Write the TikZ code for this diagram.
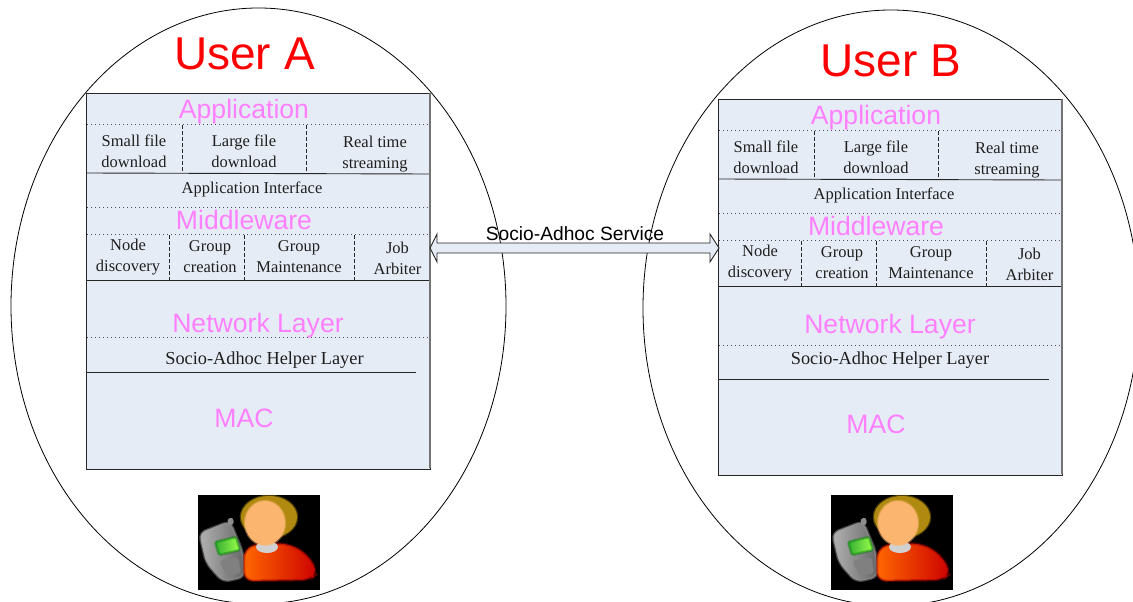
\documentclass[tikz,border=0pt]{standalone}
\usepackage{fontspec}
\setmainfont{Liberation Serif}
\newfontfamily\arialf{Liberation Sans}
\usetikzlibrary{calc,shapes.geometric}
\definecolor{boxfill}{HTML}{E6ECF6}
\definecolor{pinkt}{HTML}{FF80FF}
\definecolor{hairc}{HTML}{B08A10}
\definecolor{headc}{HTML}{FBB56E}
\tikzset{
 oval/.style={draw=black,line width=0.8pt,fill=white},
 stackbox/.style={draw=black!85,line width=0.8pt,fill=boxfill,minimum width=344pt,inner sep=0pt,anchor=north west},
 layer/.style={text=pinkt,font=\arialf\fontsize{26.6}{30}\selectfont,inner sep=0pt},
 title/.style={text=red,font=\arialf\fontsize{46}{50}\selectfont,inner sep=0pt},
 item/.style={text=black!88,font=\fontsize{16.5}{21}\selectfont,align=center,inner sep=0pt},
 helper/.style={text=black!88,font=\fontsize{18.3}{21}\selectfont,inner sep=0pt},
 dotline/.style={black!70,line width=0.7pt,dash pattern=on 1pt off 3pt},
 dashline/.style={black!85,line width=0.8pt,dash pattern=on 3.5pt off 2.5pt},
 solidline/.style={black!85,line width=0.9pt},
 svc/.style={text=black,font=\arialf\fontsize{19.2}{20}\selectfont,inner sep=0pt},
 soft/.style={line width=2.5pt,draw opacity=0.45,line join=round},
}
\newcommand{\personicon}[3]{%
 \begin{scope}[shift={(#2,#3)}]
  \node[fill=black,minimum width=122pt,minimum height=95pt,inner sep=0pt,anchor=north west] (#1icon) at (0,0) {};
  \fill[black!45,rounded corners=3pt] (29,24) -- (35,22) -- (36,30) -- (30,30) -- cycle;
  \path[left color=black!30,right color=black!60,draw=black!40,soft,rounded corners=7pt] (1,38) -- (32,26) -- (45,57) -- (47,82) -- (25,87) -- (8,68) -- cycle;
  \path[left color=green!60!black!80,right color=green!55!yellow!70,draw=green!50!black,soft,rounded corners=1.5pt] (17,47) -- (38,42) -- (42,55) -- (21,60) -- cycle;
  \fill[black!50,rounded corners=3pt] (21,66) -- (40,62) -- (43,78) -- (29,81) -- cycle;
  \path[left color=orange!80!red,right color=red!80!black,draw=red!60!black,soft,rounded corners=9pt] (46,86) -- (46,54) -- (62,48) -- (92,49) -- (110,60) -- (120,78) -- (112,85) -- cycle;
  \fill[black!18] (69,52) ellipse (11pt and 6pt);
  \path[fill=hairc,draw=hairc,soft] (71,22) ellipse (28pt and 21pt);
  \path[fill=headc,draw=headc,soft] (67,28) ellipse (20pt and 22pt);
 \end{scope}}
\newcommand{\userstack}[3]{%
 \begin{scope}[shift={(#2,#3)}]
  \node[stackbox,minimum height=375.5pt] (#1box) at (86,93) {};
  \node[layer] (#1application) at (244,112) {Application};
  \draw[dotline] (87,124.5) -- (429,124.5);
  \draw[dashline] (182.5,125) -- (182.5,173);
  \draw[dashline] (306,125) -- (306,174);
  \node[item] (#1small) at (134,151.5) {Small file\\download};
  \node[item] (#1large) at (244,151.5) {Large file\\download};
  \node[item] (#1real) at (375,154) {Real time\\streaming};
  \draw[solidline] (86,173) -- (430,174);
  \node[item] (#1iface) at (252,189) {Application Interface};
  \draw[dotline] (87,207) -- (429,207);
  \node[layer] (#1mid) at (244,219.5) {Middleware};
  \draw[dotline] (87,234.5) -- (429,234.5);
  \draw[dashline] (169,235) -- (169,281);
  \draw[dashline] (244.5,235) -- (244.5,281);
  \draw[dashline] (354.5,235) -- (354.5,281);
  \node[item] (#1nd) at (128,257.5) {Node\\discovery};
  \node[item] (#1gc) at (210,257) {Group\\creation};
  \node[item] (#1gm) at (299,257) {Group\\Maintenance};
  \node[item] (#1ja) at (397.5,258) {Job\\Arbiter};
  \draw[solidline] (86,280) -- (430,280);
  \node[layer] (#1mac) at (244,418.5) {MAC};
  \draw[black!55,line width=1.5pt] (430,93) -- (430,468);
 \end{scope}}
\begin{document}
\begin{tikzpicture}[x=1pt,y=-1pt]
 \useasboundingbox (0,0) rectangle (1133,602);
 \clip (0,0) rectangle (1133,602);
 \fill[white] (0,0) rectangle (1133,602);
 \node[oval,ellipse,minimum width=495pt,minimum height=596pt,inner sep=0pt] (ovalA) at (258.5,306) {};
 \node[oval,ellipse,minimum width=496pt,minimum height=596pt,inner sep=0pt] (ovalB) at (891,308) {};
 \node[title] (userA) at (244.5,54) {User A};
 \node[title] (userB) at (890.5,61) {User B};
 \userstack{a}{0}{0}
 \userstack{b}{632}{6}
 \node[layer] (anet) at (258,325.5) {Network Layer};
 \draw[dotline] (87,337) -- (429,337);
 \node[helper] (ahelp) at (264.5,360) {Socio-Adhoc Helper Layer};
 \draw[solidline] (86,372) -- (416,372);
 \node[layer] (bnet) at (890,326.5) {Network Layer};
 \draw[dotline] (719,345) -- (1061,345);
 \node[helper] (bhelp) at (890,360) {Socio-Adhoc Helper Layer};
 \draw[solidline] (718,379) -- (1049,379);
 \coordinate (svcL) at (430,248);
 \coordinate (svcR) at (719,248);
 \draw[fill=boxfill,draw=black!85,line width=0.9pt,line join=miter]
   (svcL) -- ($(svcL)+(7,-14)$) -- ($(svcL)+(7,-5)$) -- ($(svcR)+(-9,-5)$) -- ($(svcR)+(-9,-14)$) -- (svcR)
   -- ($(svcR)+(-9,14)$) -- ($(svcR)+(-9,5)$) -- ($(svcL)+(7,5)$) -- ($(svcL)+(7,14)$) -- cycle;
 \node[svc] (svcT) at (575,234) {Socio-Adhoc Service};
 \personicon{a}{198}{495}
 \personicon{b}{831}{495}
\end{tikzpicture}
\end{document}
